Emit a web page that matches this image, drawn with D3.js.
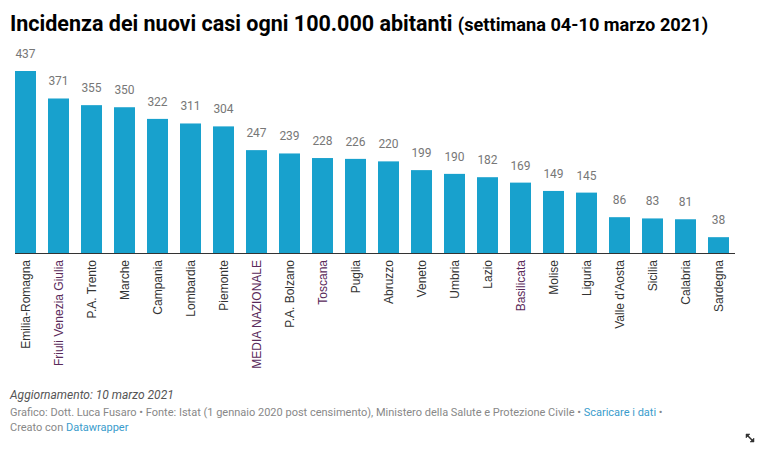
<!DOCTYPE html>
<html>
<head>
<meta charset="utf-8">
<script src="https://cdn.jsdelivr.net/npm/d3@7"></script>
<style>
  body { margin: 0; background: #fff; }
  svg { display: block; }
</style>
</head>
<body>
<div id="chart"></div>
<script>
// data
const regions = ["Emilia-Romagna", "Friuli Venezia Giulia", "P.A. Trento", "Marche", "Campania",
  "Lombardia", "Piemonte", "MEDIA NAZIONALE", "P.A. Bolzano", "Toscana", "Puglia", "Abruzzo",
  "Veneto", "Umbria", "Lazio", "Basilicata", "Molise", "Liguria", "Valle d'Aosta", "Sicilia",
  "Calabria", "Sardegna"];
const incidence = [437, 371, 355, 350, 322, 311, 304, 247, 239, 228, 226, 220,
  199, 190, 182, 169, 149, 145, 86, 83, 81, 38];
// labels shown in the darker purple tone
const highlighted = ["Friuli Venezia Giulia", "MEDIA NAZIONALE", "Toscana", "Basilicata"];

const W = 759, H = 451;
const baseline = 253;

const svg = d3.select("#chart").append("svg")
    .attr("width", W)
    .attr("height", H);

// title
const title = svg.append("text")
    .attr("x", 10)
    .attr("y", 31)
    .style("font-family", "Roboto, sans-serif")
    .style("font-weight", "bold")
    .style("fill", "#000");
title.append("tspan").style("font-size", "21.5px").text("Incidenza dei nuovi casi ogni 100.000 abitanti ");
title.append("tspan").style("font-size", "18.2px").text("(settimana 04-10 marzo 2021)");

// scales
const x = d3.scaleBand()
    .domain(regions)
    .range([9, 735])
    .paddingInner(0.364)
    .paddingOuter(0.182);

const y = d3.scaleLinear()
    .domain([0, d3.max(incidence)])
    .range([baseline, 71]);

const data = regions.map((r, i) => ({ region: r, value: incidence[i] }));

// bars
svg.selectAll("rect.bar")
    .data(data)
    .enter()
    .append("rect")
    .attr("class", "bar")
    .attr("x", d => x(d.region))
    .attr("width", x.bandwidth())
    .attr("y", d => y(d.value))
    .attr("height", d => baseline - y(d.value))
    .style("fill", "#18a1cd");

// value labels
svg.selectAll("text.val")
    .data(data)
    .enter()
    .append("text")
    .attr("class", "val")
    .attr("x", d => x(d.region) + x.bandwidth() / 2)
    .attr("y", d => y(d.value) - 13)
    .attr("text-anchor", "middle")
    .style("font-family", "Roboto, sans-serif")
    .style("font-size", "12px")
    .style("fill", "#777")
    .text(d => d.value);

// baseline
svg.append("line")
    .attr("x1", x(regions[0]))
    .attr("x2", 735)
    .attr("y1", baseline + 0.5)
    .attr("y2", baseline + 0.5)
    .attr("stroke", "#333")
    .attr("stroke-width", 1);

// rotated category labels
svg.selectAll("text.cat")
    .data(data)
    .enter()
    .append("text")
    .attr("class", "cat")
    .attr("transform", d => `translate(${x(d.region) + x.bandwidth() / 2 + 4},260) rotate(-90)`)
    .attr("text-anchor", "end")
    .style("font-family", "'Liberation Sans', Arial, sans-serif")
    .style("font-size", "12px")
    .style("fill", d => highlighted.includes(d.region) ? "#5a2a5a" : "#333")
    .text(d => d.region);

// footer
svg.append("text")
    .attr("x", 10)
    .attr("y", 399)
    .style("font-family", "Roboto, sans-serif")
    .style("font-size", "12px")
    .style("font-style", "italic")
    .style("fill", "#555")
    .text("Aggiornamento: 10 marzo 2021");

const src = svg.append("text")
    .attr("x", 10)
    .attr("y", 416)
    .style("font-family", "Roboto, sans-serif")
    .style("font-size", "11px")
    .style("fill", "#888");
src.append("tspan").text("Grafico: Dott. Luca Fusaro • Fonte: Istat (1 gennaio 2020 post censimento), Ministero della Salute e Protezione Civile • ");
src.append("tspan").style("fill", "#3a9ccc").text("Scaricare i dati");
src.append("tspan").text(" •");

const made = svg.append("text")
    .attr("x", 10)
    .attr("y", 431)
    .style("font-family", "Roboto, sans-serif")
    .style("font-size", "11px")
    .style("fill", "#888");
made.append("tspan").text("Creato con ");
made.append("tspan").style("fill", "#3a9ccc").text("Datawrapper");

// small resize glyph in the corner
const g = svg.append("g")
    .attr("transform", "translate(750,438)")
    .attr("stroke", "#333")
    .attr("stroke-width", 1.5)
    .attr("fill", "#333");
g.append("line").attr("x1", -3).attr("y1", -3).attr("x2", 3).attr("y2", 3);
g.append("path").attr("d", "M-4,-4 L0,-4 L-4,0 Z").attr("stroke-width", 0.5);
g.append("path").attr("d", "M4,4 L0,4 L4,0 Z").attr("stroke-width", 0.5);
</script>
</body>
</html>
